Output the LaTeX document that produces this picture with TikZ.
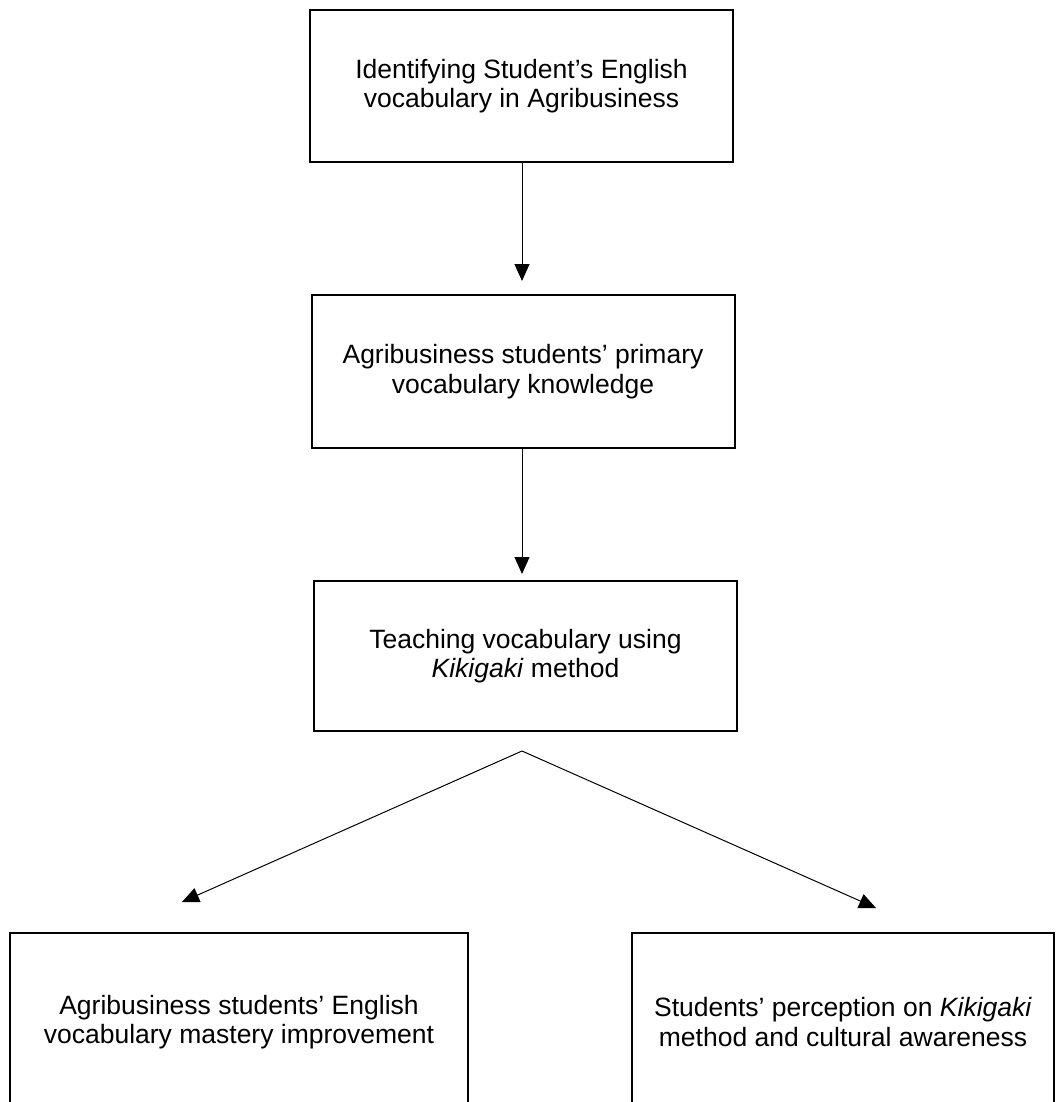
\documentclass[tikz,border=0pt]{standalone}
\usepackage{fontspec}
\setmainfont{Liberation Sans}
\usetikzlibrary{arrows.meta}

\begin{document}
\begin{tikzpicture}[
  x=1pt, y=-1pt,
  font=\fontsize{26.5}{29.5}\selectfont,
  stage/.style={draw, line width=2pt, align=center, inner sep=0pt, minimum width=423pt, minimum height=152pt},
  result/.style={draw, line width=2pt, align=center, inner sep=0pt, minimum height=178pt},
  arr/.style={-{Triangle[length=17pt, width=15pt]}, line width=1pt}
]
\useasboundingbox (0,0) rectangle (1060,1102);

\node[stage] (ident) at (521.5,86) {Identifying Student's English\\vocabulary in Agribusiness};
\node[stage, minimum height=153pt] (prim) at (523,371.5) {Agribusiness students' primary\\vocabulary knowledge};
\node[stage, minimum height=150pt] (teach) at (525.5,656) {Teaching vocabulary using\\\textit{Kikigaki} method};
\node[result, minimum width=458pt] (mastery) at (239,1022) {Agribusiness students' English\\vocabulary mastery improvement};
\node[result, minimum width=422pt] (percept) at (843,1022) {Students' perception on \textit{Kikigaki}\\method and cultural awareness};

\coordinate (split) at (522,751);
\coordinate (tipL) at (182,902);
\coordinate (tipR) at (876,908);

\draw[arr, shorten >=13pt] (ident.south -| split) -- (prim.north -| split);
\draw[arr, shorten >=6pt] (prim.south -| split) -- (teach.north -| split);
\draw[arr] (split) -- (tipL);
\draw[arr] (split) -- (tipR);
\end{tikzpicture}
\end{document}
